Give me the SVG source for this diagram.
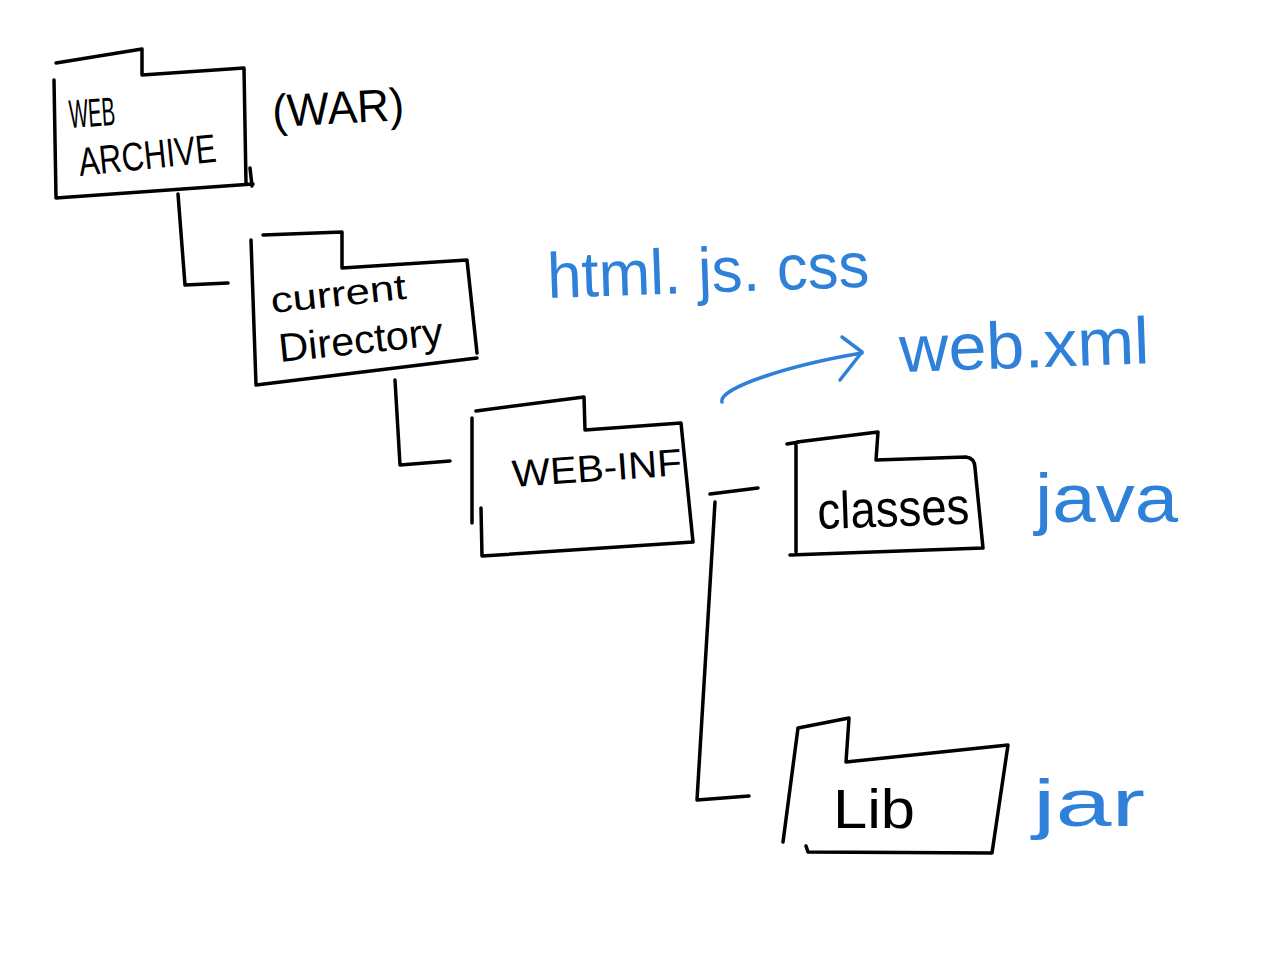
<svg xmlns="http://www.w3.org/2000/svg" width="1280" height="963" viewBox="0 0 1280 963">
<style>
.ln{fill:none;stroke:#000;stroke-width:3.5;stroke-linecap:round;stroke-linejoin:round}
.bl{fill:none;stroke:#2f80d9;stroke-width:3.5;stroke-linecap:round;stroke-linejoin:round}
.t{font-family:"Liberation Sans","DejaVu Sans",sans-serif;fill:#000}
.b{font-family:"Liberation Sans","DejaVu Sans",sans-serif;fill:#2f80d9}
</style>
<rect width="1280" height="963" fill="#fff"/>
<g id="connectors">
<path class="ln" d="M178,194 L185,285 L228,283"/>
<path class="ln" d="M395,380 L400,465 L450,461"/>
<path class="ln" d="M710,494 L758,488"/>
<path class="ln" d="M715,502 L697,800 L749,796"/>
<path class="bl" d="M722,402 C718,388 790,365 862,353"/>
<path class="bl" d="M842,337 L862,352 L840,380"/>
</g>
<g id="web-archive">
<path class="ln" d="M56,63 L142,49 L142,75 L244,68 L246,184 M253,184 L56,198 L54,80"/>
<path class="ln" d="M250,168 L252,186"/>
<text class="t" x="70" y="128" font-size="40" textLength="46" lengthAdjust="spacingAndGlyphs" transform="rotate(-4 70 128)">WEB</text>
<text class="t" x="80" y="176" font-size="40" textLength="138" lengthAdjust="spacingAndGlyphs" transform="rotate(-6 80 176)">ARCHIVE</text>
</g>
<text id="war" class="t" x="273" y="127" font-size="46" textLength="132" lengthAdjust="spacingAndGlyphs" transform="rotate(-3 273 127)">(WAR)</text>
<g id="current-directory">
<path class="ln" d="M263,235 L342,232 L342,268 L467,260 L477,353 M477,358 L256,385 L251,240"/>
<text class="t" x="272" y="313" font-size="36" textLength="136" lengthAdjust="spacingAndGlyphs" transform="rotate(-6 272 313)">current</text>
<text class="t" x="280" y="362" font-size="40" textLength="165" lengthAdjust="spacingAndGlyphs" transform="rotate(-6 280 362)">Directory</text>
</g>
<g id="web-inf">
<path class="ln" d="M476,411 L584,397 L585,430 L681,423 L693,542 L482,556 L481,508 M472,418 L472,523"/>
<text class="t" x="513" y="487" font-size="38" textLength="170" lengthAdjust="spacingAndGlyphs" transform="rotate(-4 513 487)">WEB-INF</text>
</g>
<g id="classes">
<path class="ln" d="M797,442 L878,432 L876,460 L966,457 Q975,458 975,468 L983,548 L790,555 M796,444 L796,552 M787,444 L799,442"/>
<text class="t" x="818" y="529" font-size="52" textLength="152" lengthAdjust="spacingAndGlyphs" transform="rotate(-2 818 529)">classes</text>
</g>
<g id="lib">
<path class="ln" d="M798,728 L849,718 L846,762 L1008,745 L992,853 L808,852 L806,846 M798,728 L783,842"/>
<text class="t" x="833" y="828" font-size="56" textLength="82" lengthAdjust="spacingAndGlyphs">Lib</text>
</g>
<text id="html-js-css" class="b" x="548" y="298" font-size="64" textLength="322" lengthAdjust="spacingAndGlyphs" transform="rotate(-2 548 298)">html. js. css</text>
<text id="web-xml" class="b" x="900" y="372" font-size="66" textLength="250" lengthAdjust="spacingAndGlyphs" transform="rotate(-2 900 372)">web.xml</text>
<text id="java" class="b" x="1035" y="522" font-size="68" textLength="143" lengthAdjust="spacingAndGlyphs">java</text>
<text id="jar" class="b" x="1033" y="826" font-size="66" textLength="112" lengthAdjust="spacingAndGlyphs">jar</text>
</svg>
